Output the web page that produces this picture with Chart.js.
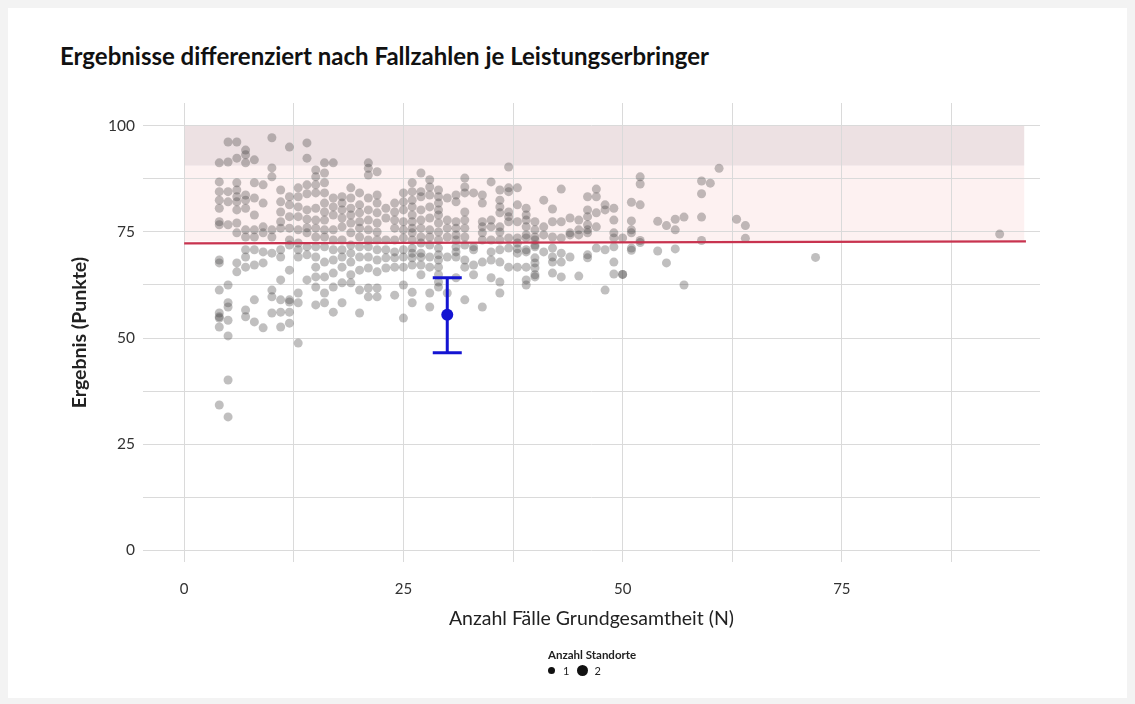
<!DOCTYPE html>
<html lang="de">
<head>
<meta charset="utf-8">
<script src="https://cdn.jsdelivr.net/npm/chart.js@4.4.1/dist/chart.umd.min.js"></script>
<style>
  html, body { margin:0; padding:0; }
  body { width:1135px; height:704px; background:#f3f3f3; position:relative; overflow:hidden; font-family: Lato, "Open Sans", sans-serif; }
  #card { position:absolute; left:8px; top:8px; width:1119px; height:690px; background:#ffffff; }
  #titel { position:absolute; left:60px; top:41px; font-family: Lato, sans-serif; font-weight:700; font-size:24px; color:#111; white-space:nowrap; }
  #wrap { position:absolute; left:0; top:0; width:1135px; height:704px; }
  #legende { position:absolute; left:548px; top:648px; font-family: Lato, sans-serif; color:#222; }
  #legende .kopf { font-size:11.5px; font-weight:700; white-space:nowrap; }
  #legende .eintraege { margin-top:3px; font-size:11px; display:flex; align-items:center; }
  #legende .dot { display:inline-block; background:#111; border-radius:50%; }
</style>
</head>
<body>
<div id="card"></div>
<div id="titel">Ergebnisse differenziert nach Fallzahlen je Leistungserbringer</div>
<div id="wrap"><canvas id="c" width="1135" height="704"></canvas></div>
<div id="legende">
  <div class="kopf">Anzahl Standorte</div>
  <div class="eintraege">
    <span class="dot" style="width:7px;height:7px;margin-left:0px;"></span><span style="margin-left:8px;">1</span>
    <span class="dot" style="width:11px;height:11px;margin-left:8px;"></span><span style="margin-left:6px;">2</span>
  </div>
</div>
<script>
// ---- Daten ----
const fallzahlen = [4,5,6,7,8,9,10,11,12,13,14,15,16,17,18,19,20,21,22,23,24,25,26,27,28,29,30,31,32,33,34,35,36,37,38,39,40,41,42,43,44,45,46,47,48,49,50,51,52,54,55,56,57,59,60,61,63,64,72,93];
const ergebnisseJeFallzahl = [
  [91.3,86.8,84.5,82.5,80.6,77.4,76.7,68.4,67.7,61.3,55.9,55,54.7,52.6,34.2],
  [96.2,91.5,84.5,82.1,76.7,62.5,58.3,57.3,54.2,50.5,40.1,31.4],
  [96.2,92.4,86.6,84.9,83.3,82.1,80.2,77.1,74.8,67.7,65.6],
  [94.3,93.2,91.3,83.7,82.5,80.6,75.5,73.8,70.8,69.1,66.7,56.6,55],
  [92,86.6,83,79,75.5,73.8,70.8,67.2,59,53.8],
  [86.1,81.8,76.2,74.8,70.3,67.7,52.4],
  [97.2,90.1,88,75.5,73.8,70,61.3,59.7,55.9],
  [84.9,82.1,79.7,77.4,75.9,70.8,69.1,63.7,59,56.1,52.6],
  [95,83.3,81.4,78.6,75.9,73.1,71.9,66,59,58.5,56.1,53.5],
  [85.4,83.3,80.9,78.6,75.5,72.4,70.8,69.1,60.6,58.3,48.8],
  [96,92.4,86.1,84,80.2,78,76,74.8,71.5,69.6,63.7],
  [89.6,88,86.1,84.2,80.6,77.8,75.9,73.8,71.5,69.1,66.7,64.4,62,57.8],
  [91.3,88.9,86.6,84.2,81.8,79.7,77.8,75.5,73.8,71.5,67.9,64.4,60.6,58.3],
  [91.3,83,80.9,79,75.5,73.1,70.8,68.4,65.3,62,56.1],
  [83.3,81.8,80.2,78.3,76.2,73.1,70.8,69.1,66.7,63,58.3],
  [85.4,83,80.6,79,77.1,74.8,71.9,70,67.9,64.9,63],
  [84.2,81.4,79.5,77.4,75.9,73.8,71.5,69.1,66,61.3,55.9],
  [91.3,90,88.4,83,80.2,77.8,75.5,73.1,71.5,69.1,66.5,61.8,59.7],
  [89.2,83.7,81.8,79.5,77.1,75,73.1,70.8,68.4,65.6,61.8,59.7],
  [80.6,78.3,73.1,70.8,68.9,66.5],
  [81.8,79.7,77.8,75.9,73.1,70.3,68.9,66.7,60.1],
  [84.2,82.1,80.2,77.4,75.5,73.6,70.8,69.1,66.7,62.5,54.7],
  [86.6,84.5,82.5,80.9,79,77.4,75.9,74.8,73.1,71.2,70,68.9,67.2,60.8,58.3],
  [88.9,84.5,83.3,80.2,77.8,75.9,73.8,72.4,70,69.1,67.2,64.9],
  [87.3,85.6,83.7,80.9,78.3,75.5,73.8,71.9,69.1,66.7,60.6,57.3],
  [84.9,83.3,81.8,80.2,79,77.1,75,73.1,71.2,69.6,68.4,66.7,64.9,63.2,62],
  [83,77.8,75.9,73.8,69.1,60.6],
  [83.7,82.1,77.4,75.9,74.3,73.1,71.5,70.3,69.1,64.2],
  [87.7,85.6,84.2,79.7,77.8,75.9,73.8,71.9,68.4,66.7,59],
  [84.2,71.5,70.8,67.2,64.9],
  [83.7,81.8,77.4,76.2,74.8,73.1,67.9,57.3],
  [86.8,77.8,76.2,73.1,70.3,68.4,64.2],
  [84.9,82.5,80.9,79.5,76.2,75,73.1,70.8,67.9,63.2,60.6],
  [90.3,85.4,84.5,79.7,78.6,77.4,73.6,71.2,66.7],
  [85.4,81.4,77.4,73.6,72.4,71,70,66.7],
  [80.6,79,77.8,76.2,74.3,73.6,70.8,70.3,66.7,63.7,62.5],
  [77.4,75.5,73.8,73.1,71.9,71.5,68.9,67.7,66.5,64.9,64.4],
  [82.5,76.2,74.3,70.3],
  [80.4,77.4,73.8,71.2,69.1,67.9,65.3],
  [85.1,77.4,73.6,70,67.9,64.4],
  [78.3,74.8,74.3,69.1],
  [77.8,75.5,74.3,64.6],
  [83.3,80.2,78.6,76.7,75.5,74.8,69.6,68.9],
  [85.1,83.3,79.5,76.2,71.2],
  [81.4,80.2,70.8,61.3],
  [80.6,77.8,74.8,73.6,71.5,67.9,65.1],
  [73.6,65,65],
  [82,77.6,75.5,74.8,71.2,70.7],
  [88,86.3,81.4,73,72.5],
  [77.5,70.5],
  [76.5,67.7],
  [78,75.5,71],
  [78.5,62.5],
  [87,84,78.5,73],
  [86.5],
  [90],
  [78],
  [76.5,73.5],
  [69],
  [74.5]
];
// Referenzbereiche [von, bis] in Punkten, horizontal von 0 bis bandEnde
const bandGrenzenOben = [90.6, 100];
const bandGrenzenUnten = [72.8, 90.6];
const bandEnde = 95.8;
// Referenzlinie (N, Ergebnis)
const linieN = [0, 96];
const linieWert = [72.3, 72.8];
// Eigener Leistungserbringer: N, Mittelwert, Konfidenzintervall
const eigenN = 30;
const eigenWert = 55.5;
const eigenKI = [46.5, 64.2];
// Achsen
const xTicks = [0,12.5,25,37.5,50,62.5,75,87.5];
const yTicks = [0,12.5,25,37.5,50,62.5,75,87.5,100];
const xBereich = [-4.7, 97.6];
const yBereich = [-2.8, 105.4];

// ---- Aufbau ----
const punkte = [];
fallzahlen.forEach((n, i) => ergebnisseJeFallzahl[i].forEach(v => punkte.push({x:n, y:v})));

const baenderPlugin = {
  id: 'baender',
  beforeDraw(chart) {
    const {ctx, scales:{x, y}} = chart;
    ctx.save();
    const fill = (g, col) => {
      const x0 = x.getPixelForValue(0), x1 = x.getPixelForValue(bandEnde);
      const y0 = y.getPixelForValue(g[1]), y1 = y.getPixelForValue(g[0]);
      ctx.fillStyle = col;
      ctx.fillRect(x0, y0, x1 - x0, y1 - y0);
    };
    fill(bandGrenzenOben, '#ede1e3');
    fill(bandGrenzenUnten, '#fdf1f1');
    ctx.restore();
  }
};

const fehlerbalkenPlugin = {
  id: 'fehlerbalken',
  afterDatasetsDraw(chart) {
    const {ctx, scales:{x, y}} = chart;
    const px = x.getPixelForValue(eigenN);
    const yo = y.getPixelForValue(eigenKI[1]);
    const yu = y.getPixelForValue(eigenKI[0]);
    const ym = y.getPixelForValue(eigenWert);
    ctx.save();
    ctx.strokeStyle = '#1414d2';
    ctx.lineWidth = 3;
    ctx.beginPath();
    ctx.moveTo(px, yo); ctx.lineTo(px, yu);
    ctx.moveTo(px - 14.5, yo); ctx.lineTo(px + 14.5, yo);
    ctx.moveTo(px - 14.5, yu); ctx.lineTo(px + 14.5, yu);
    ctx.stroke();
    ctx.fillStyle = '#1414d2';
    ctx.beginPath();
    ctx.arc(px, ym, 6, 0, Math.PI * 2);
    ctx.fill();
    ctx.restore();
  }
};

new Chart(document.getElementById('c'), {
  type: 'scatter',
  data: {
    datasets: [
      {
        label: 'Leistungserbringer',
        data: punkte,
        backgroundColor: 'rgba(70,66,66,0.34)',
        borderWidth: 0,
        pointRadius: 4.5,
        pointHoverRadius: 4.5,
        order: 2
      },
      {
        label: 'Referenz',
        type: 'line',
        data: linieN.map((n, i) => ({x:n, y:linieWert[i]})),
        borderColor: '#c8334f',
        borderWidth: 2.2,
        pointRadius: 0,
        order: 1
      }
    ]
  },
  options: {
    responsive: false,
    animation: false,
    events: [],
    layout: { padding: { left: 68, right: 95, top: 103, bottom: 72 } },
    plugins: { legend: { display: false }, tooltip: { enabled: false } },
    scales: {
      x: {
        type: 'linear',
        min: xBereich[0], max: xBereich[1],
        afterBuildTicks: s => { s.ticks = xTicks.map(v => ({value: v})); },
        afterFit: s => { s.height = 70; },
        grid: { color: '#dadada', lineWidth: 1, drawTicks: false },
        border: { display: false },
        ticks: {
          padding: 18,
          color: '#333',
          font: { family: 'Lato', size: 15 },
          callback: v => (v % 25 === 0 ? String(v) : '')
        },
        title: {
          display: true,
          text: 'Anzahl Fälle Grundgesamtheit (N)',
          color: '#222',
          font: { family: 'Lato', size: 19.5 },
          padding: { top: 0, bottom: 2 }
        }
      },
      y: {
        type: 'linear',
        min: yBereich[0], max: yBereich[1],
        afterBuildTicks: s => { s.ticks = yTicks.map(v => ({value: v})); },
        afterFit: s => { s.width = 75; },
        grid: { color: '#dadada', lineWidth: 1, drawTicks: false },
        border: { display: false },
        ticks: {
          padding: 8,
          color: '#333',
          font: { family: 'Lato', size: 15.5 },
          callback: v => (v % 25 === 0 ? String(v) : '')
        },
        title: {
          display: true,
          text: 'Ergebnis (Punkte)',
          color: '#222',
          font: { family: 'Lato', size: 19.5, weight: 'bold' },
          padding: { top: 0, bottom: 0 }
        }
      }
    }
  },
  plugins: [baenderPlugin, fehlerbalkenPlugin]
});
</script>
</body>
</html>
